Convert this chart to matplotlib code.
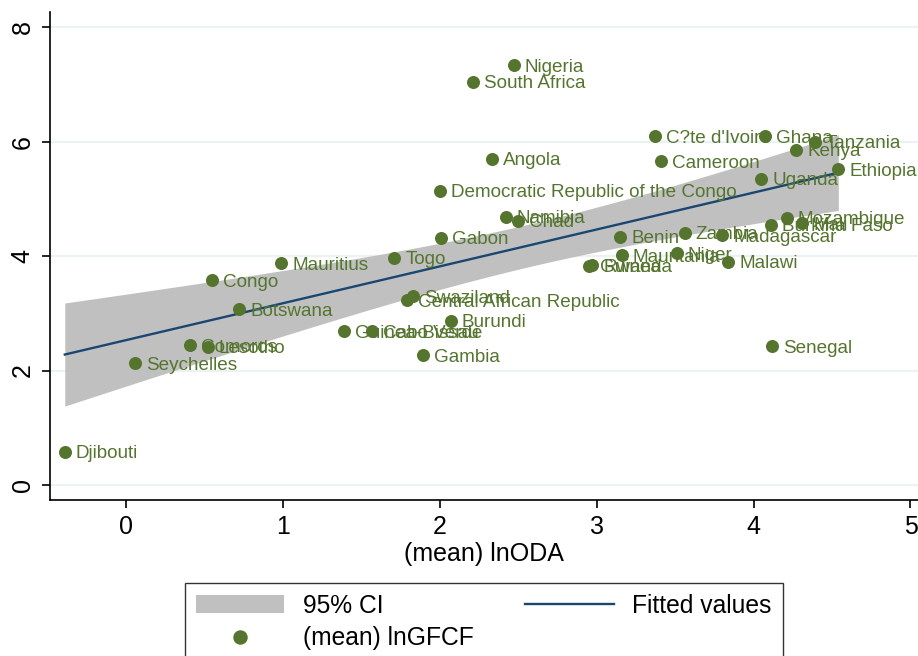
import numpy as np
import matplotlib.pyplot as plt
from matplotlib.patches import Patch
from matplotlib.lines import Line2D

plt.rcParams['font.family'] = ['Liberation Sans', 'DejaVu Sans']

# ----------------------------
# datos
# ----------------------------
countries = [
    "Nigeria", "South Africa", "C?te d'Ivoire", "Ghana", "Tanzania", "Kenya",
    "Ethiopia", "Angola", "Cameroon", "Uganda",
    "Democratic Republic of the Congo", "Namibia", "Chad", "Gabon", "Benin",
    "Zambia", "Madagascar", "Mozambique", "Burkina Faso", "Mali", "Malawi",
    "Mauritania", "Niger", "Guinea", "Rwanda", "Togo", "Mauritius", "Congo",
    "Botswana", "Swaziland", "Central African Republic", "Burundi",
    "Guinea-Bissau", "Cabo Verde", "Gambia", "Comoros", "Lesotho",
    "Seychelles", "Djibouti", "Senegal",
]
ln_oda = [
    2.47, 2.21, 3.37, 4.07, 4.39, 4.27,
    4.54, 2.33, 3.41, 4.05,
    2.00, 2.42, 2.50, 2.01, 3.15,
    3.56, 3.80, 4.21, 4.11, 4.31, 3.84,
    3.16, 3.51, 2.95, 2.97, 1.71, 0.99, 0.55,
    0.72, 1.83, 1.79, 2.07,
    1.39, 1.57, 1.89, 0.41, 0.52,
    0.06, -0.39, 4.12,
]
ln_gfcf = [
    7.34, 7.05, 6.10, 6.10, 6.00, 5.86,
    5.52, 5.70, 5.66, 5.35,
    5.14, 4.69, 4.62, 4.32, 4.34,
    4.41, 4.37, 4.67, 4.55, 4.58, 3.90,
    4.02, 4.05, 3.83, 3.84, 3.97, 3.88, 3.58,
    3.07, 3.30, 3.23, 2.87,
    2.69, 2.69, 2.27, 2.44, 2.42,
    2.13, 0.58, 2.43,
]

GREEN = '#55752f'
NAVY = '#1a476f'
GRIS = '#c0c0c0'
GRID = '#eaf2f3'
T_CRIT = 2.024  # t(0.975, gl=38)

x = np.array(ln_oda)
y = np.array(ln_gfcf)

# ajuste lineal + IC 95% de la media
n = len(x)
b, a = np.polyfit(x, y, 1)
resid = y - (a + b * x)
s = np.sqrt(np.sum(resid**2) / (n - 2))
sxx = np.sum((x - x.mean())**2)
xs = np.linspace(x.min(), x.max(), 200)
ys = a + b * xs
se = s * np.sqrt(1.0 / n + (xs - x.mean())**2 / sxx)

fig = plt.figure(figsize=(9.18, 6.56), dpi=100)
ax = fig.add_axes([0.0545, 0.238, 0.9455, 0.744])

ax.fill_between(xs, ys - T_CRIT * se, ys + T_CRIT * se, color=GRIS, lw=0, zorder=1)
ax.plot(xs, ys, color=NAVY, lw=1.7, zorder=2)
ax.scatter(x, y, s=88, color=GREEN, zorder=3, linewidths=0)
for name, xi, yi in zip(countries, x, y):
    ax.annotate(name, (xi, yi), xytext=(8, -1.5), textcoords='offset points',
                va='center', ha='left', fontsize=13.6, color=GREEN, zorder=4)

ax.set_xlim(-0.484, 5.048)
ax.set_ylim(-0.26, 8.27)
ax.set_xticks([0, 1, 2, 3, 4, 5])
ax.set_yticks([0, 2, 4, 6, 8])
ax.tick_params(labelsize=18, length=6, width=1.2, color='black')
ax.tick_params(axis='x', pad=5)
ax.tick_params(axis='y', pad=5)
for lbl in ax.get_yticklabels():
    lbl.set_rotation(90)
    lbl.set_va('center')
ax.yaxis.grid(True, color=GRID, lw=1.6)
ax.set_axisbelow(True)
for side in ['top', 'right']:
    ax.spines[side].set_visible(False)
for side in ['left', 'bottom']:
    ax.spines[side].set_linewidth(1.2)
ax.set_xlabel("(mean) lnODA", fontsize=18, labelpad=2)

handles = [
    Patch(facecolor=GRIS, edgecolor='none'),
    Line2D([], [], ls='none', marker='o', ms=9.4, color=GREEN),
    Line2D([], [], color=NAVY, lw=1.7),
]
labels = ["95% CI", "(mean) lnGFCF", "Fitted values"]
leg = fig.legend(handles, labels, ncol=2, loc='upper center',
                 bbox_to_anchor=(0.527, 0.112), fontsize=17.7, frameon=True,
                 fancybox=False, edgecolor='black', handlelength=3.6,
                 handletextpad=0.75, columnspacing=2.1, labelspacing=0.35,
                 borderpad=0.45, borderaxespad=0)
leg.get_frame().set_linewidth(1.0)

fig.savefig("out.png", dpi=100)
